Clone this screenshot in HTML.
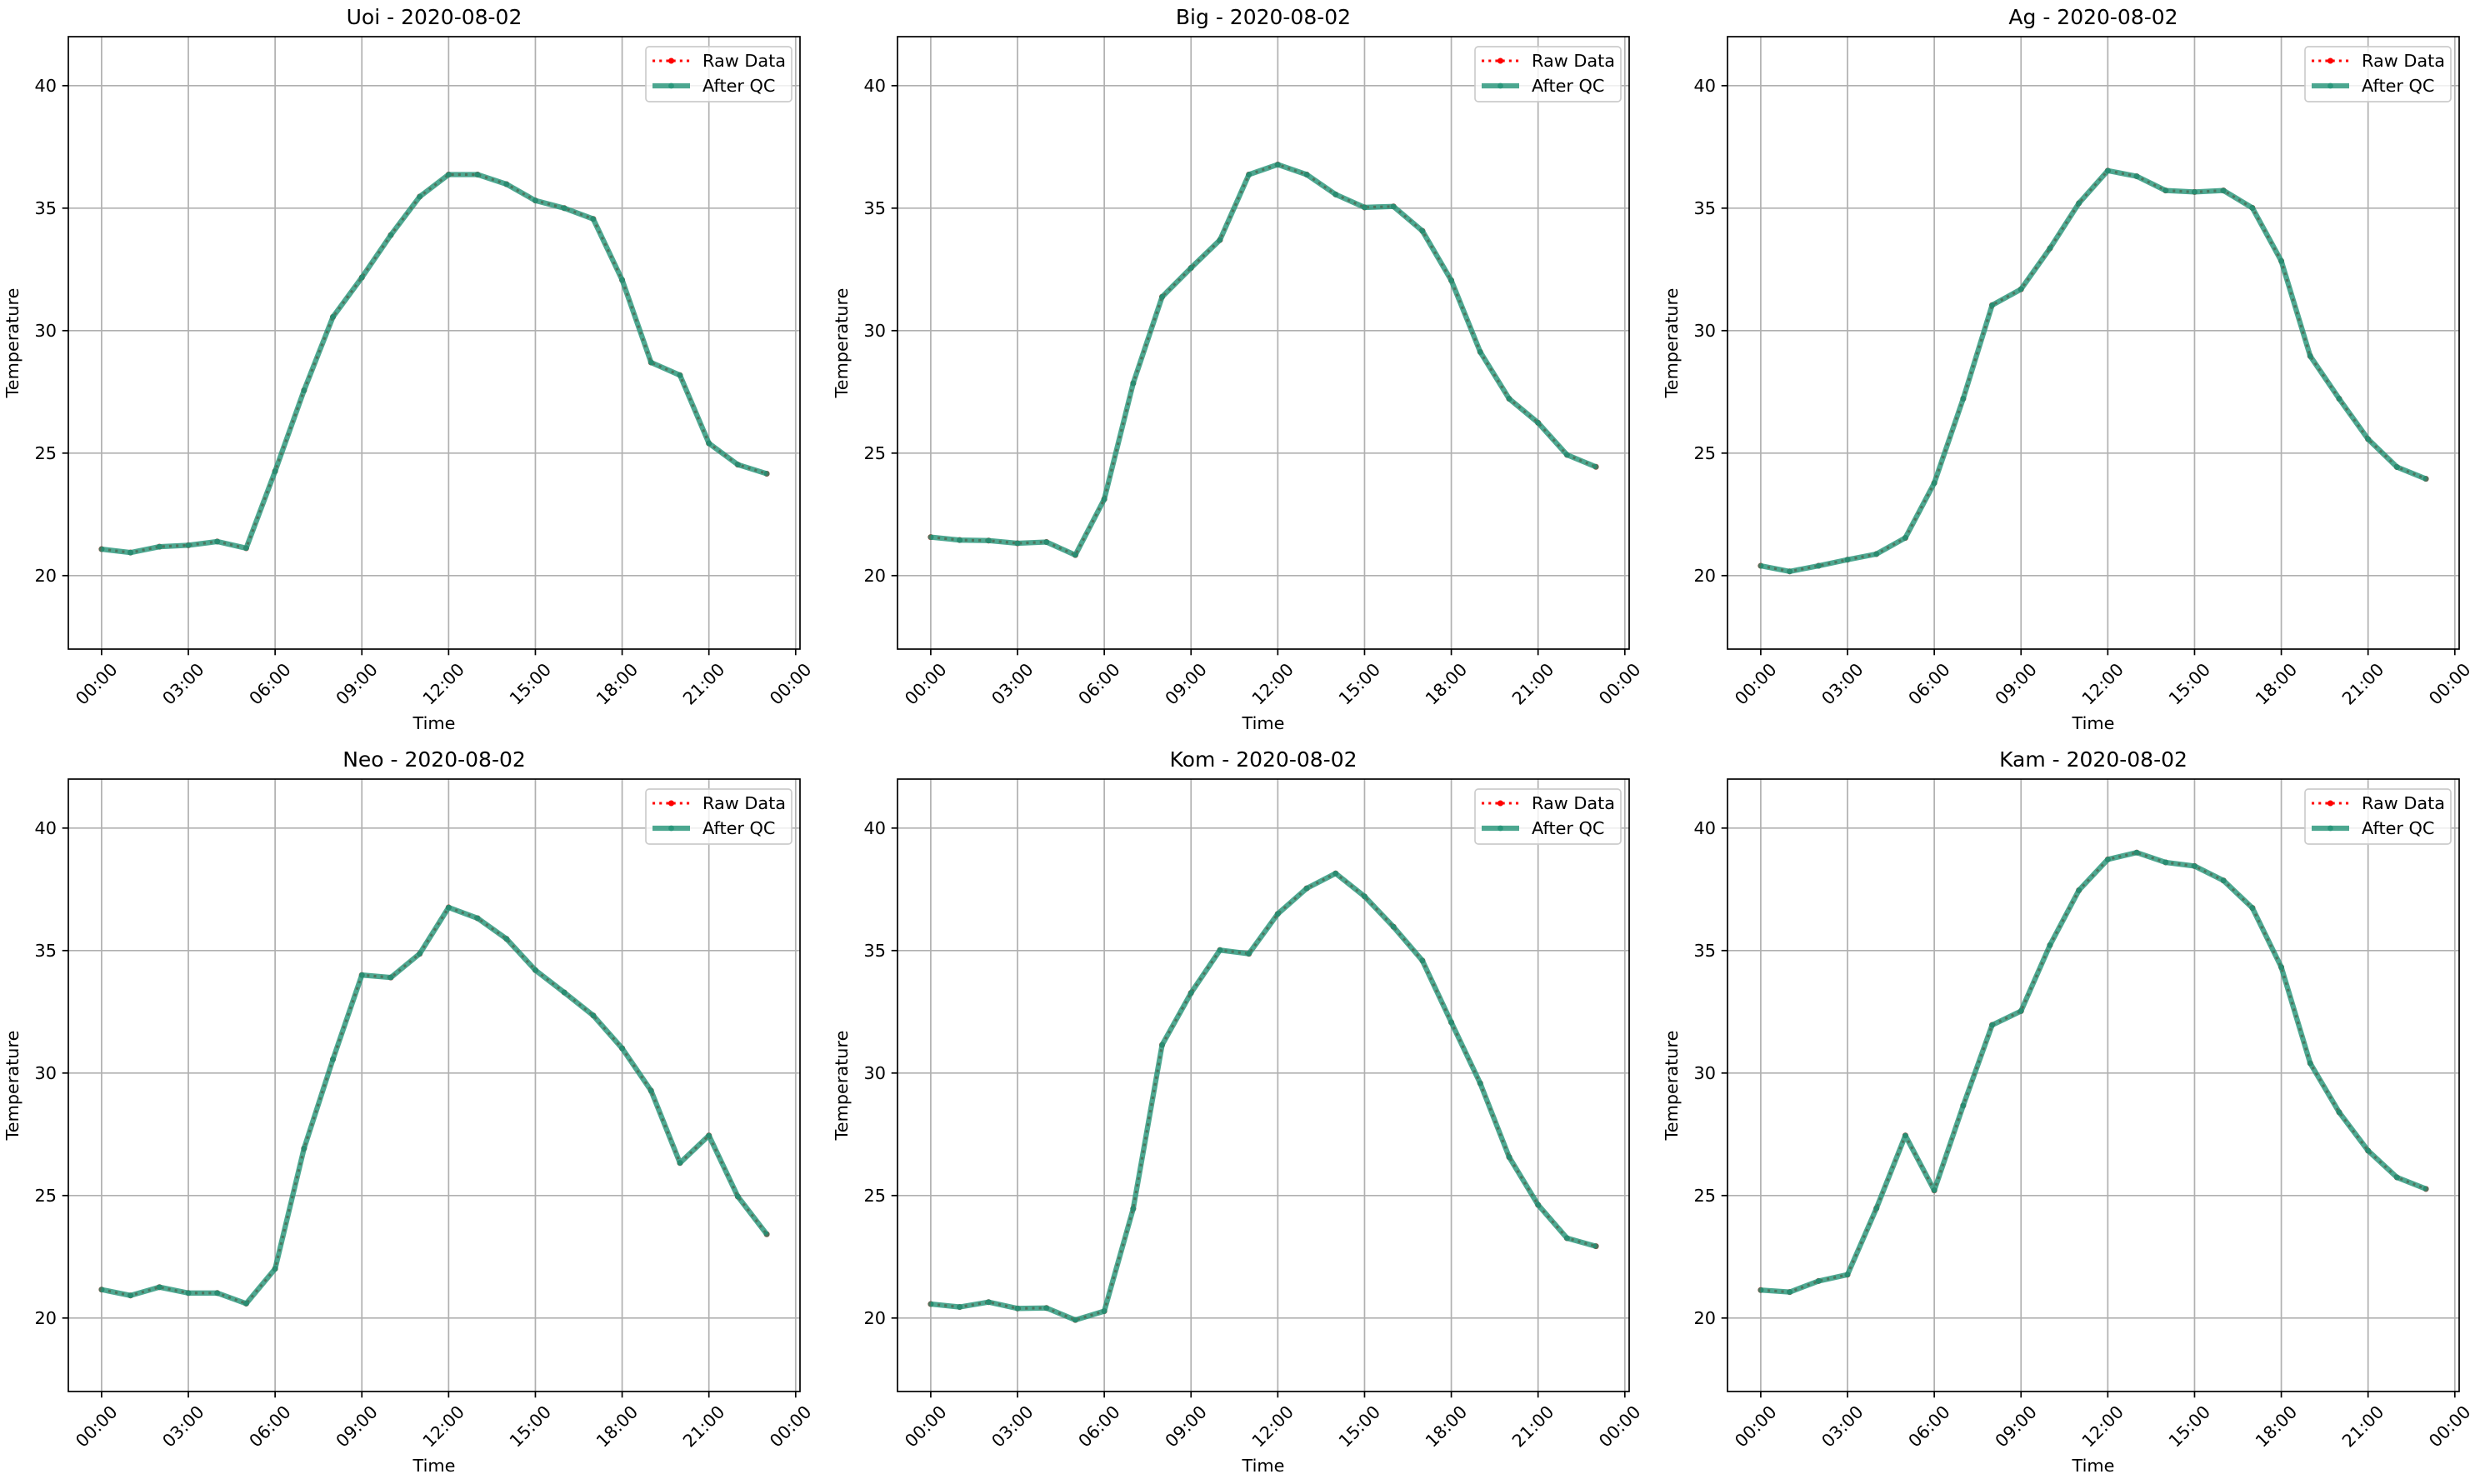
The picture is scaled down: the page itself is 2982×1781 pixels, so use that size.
<!DOCTYPE html>
<html><head><meta charset="utf-8"><style>
html,body{margin:0;padding:0;background:#fff;}
svg{display:block;font-family:"DejaVu Sans","Liberation Sans",sans-serif;}
</style></head><body>
<svg id="fig" width="2982" height="1781" viewBox="0 0 2982 1781" xmlns="http://www.w3.org/2000/svg"></svg>
<script>
const stations = ["Uoi","Big","Ag","Neo","Kom","Kam"];
const dateLabel = "2020-08-02";
const hours = [0,1,2,3,4,5,6,7,8,9,10,11,12,13,14,15,16,17,18,19,20,21,22,23];
const tempUoi = [21.08,20.94,21.18,21.24,21.39,21.12,24.26,27.56,30.56,32.17,33.90,35.47,36.37,36.37,35.98,35.31,35.00,34.56,32.07,28.70,28.18,25.40,24.53,24.16];
const tempBig = [21.57,21.45,21.43,21.32,21.37,20.84,23.12,27.85,31.38,32.56,33.70,36.37,36.78,36.37,35.56,35.03,35.07,34.07,32.05,29.13,27.22,26.24,24.93,24.44];
const tempAg  = [20.40,20.17,20.40,20.65,20.88,21.54,23.78,27.22,31.04,31.69,33.36,35.20,36.53,36.30,35.72,35.66,35.72,35.01,32.84,28.96,27.22,25.57,24.43,23.95];
const tempNeo = [21.16,20.92,21.26,21.02,21.02,20.59,22.01,26.92,30.56,34.00,33.90,34.87,36.76,36.32,35.48,34.20,33.29,32.35,31.01,29.28,26.33,27.45,24.96,23.42];
const tempKom = [20.57,20.45,20.65,20.39,20.41,19.92,20.28,24.46,31.15,33.27,35.02,34.87,36.50,37.54,38.15,37.21,35.97,34.59,32.07,29.58,26.57,24.62,23.26,22.93];
const tempKam = [21.14,21.06,21.51,21.77,24.48,27.45,25.21,28.67,31.96,32.53,35.22,37.46,38.72,39.00,38.60,38.45,37.86,36.74,34.32,30.40,28.40,26.83,25.74,25.27];
const yTicks = [20,25,30,35,40];
const xTickHours = [0,3,6,9,12,15,18,21,24];
const xTickLabels = ["00:00","03:00","06:00","09:00","12:00","15:00","18:00","21:00","00:00"];
const yDomain = [17,42];
const xDomain = [-1.15,24.15];

const series = [tempUoi,tempBig,tempAg,tempNeo,tempKom,tempKam];
const NS = "http://www.w3.org/2000/svg";
const svg = document.getElementById('fig');
function mk(tag, attrs, parent){const e=document.createElementNS(NS,tag);for(const k in attrs)e.setAttribute(k,attrs[k]);(parent||svg).appendChild(e);return e;}

const lefts=[82,1077,2073], tops=[44,935], W=878, H=735;
const GREEN="#209275";

series.forEach((vals,i)=>{
  const L=lefts[i%3], T=tops[Math.floor(i/3)];
  const sx=h=>L+(h-xDomain[0])/(xDomain[1]-xDomain[0])*W;
  const sy=v=>T+H-(v-yDomain[0])/(yDomain[1]-yDomain[0])*H;
  const g=mk('g',{});
  
  
  // grid
  xTickHours.forEach(h=>{const l=mk('line',{x1:sx(h),x2:sx(h),y1:T,y2:T+H,stroke:'#b0b0b0','stroke-width':1.7},g);
    });
  yTicks.forEach(v=>{const l=mk('line',{x1:L,x2:L+W,y1:sy(v),y2:sy(v),stroke:'#b0b0b0','stroke-width':1.7},g);
    });
  // ticks & labels
  yTicks.forEach(v=>{
    mk('line',{x1:L-7.3,x2:L,y1:sy(v),y2:sy(v),stroke:'#000','stroke-width':1.7},g);
    const t=mk('text',{x:L-14,y:sy(v),'font-size':20.8,'text-anchor':'end','dominant-baseline':'central',fill:'#000'},g);
    t.textContent=v;
    
  });
  xTickHours.forEach((h,k)=>{
    mk('line',{x1:sx(h),x2:sx(h),y1:T+H,y2:T+H+7.3,stroke:'#000','stroke-width':1.7},g);
    const cx=sx(h)-6, cy=T+H+42;
    const t=mk('text',{x:cx,y:cy,'font-size':20.8,'text-anchor':'middle','dominant-baseline':'central',fill:'#000',transform:`rotate(-45 ${cx} ${cy})`},g);
    t.textContent=xTickLabels[k];
    
  });
  // raw data (red dotted)
  const pts=hours.map((h,k)=>sx(h)+','+sy(vals[k])).join(' ');
  const raw=mk('polyline',{points:pts,fill:'none',stroke:'#ff0000','stroke-width':3.1,'stroke-dasharray':'3.1 5.1'},g);
  
  hours.forEach((h,k)=>{const c=mk('circle',{cx:sx(h),cy:sy(vals[k]),r:3.5,fill:'#ff0000'},g);
    });
  // after QC (green)
  const qc=mk('polyline',{points:pts,fill:'none',stroke:GREEN,'stroke-width':6.3,'stroke-opacity':0.8,'stroke-linejoin':'round'},g);
  
  hours.forEach((h,k)=>{const c=mk('circle',{cx:sx(h),cy:sy(vals[k]),r:3.4,fill:GREEN,'fill-opacity':0.8},g);
    });
  // spines
  const fr=mk('rect',{x:L,y:T,width:W,height:H,fill:'none',stroke:'#000','stroke-width':1.7},g);
  
  // title & labels
  const ti=mk('text',{x:L+W/2,y:T-15,'font-size':25,'text-anchor':'middle',fill:'#000'},g);
  ti.textContent=stations[i]+' - '+dateLabel;
  
  const xl=mk('text',{x:L+W/2,y:T+H+96,'font-size':20.8,'text-anchor':'middle',fill:'#000'},g);
  xl.textContent='Time';
  
  const yx=L-60, yy=T+H/2;
  const yl=mk('text',{x:yx,y:yy,'font-size':20.8,'text-anchor':'middle',fill:'#000',transform:`rotate(-90 ${yx} ${yy})`},g);
  yl.textContent='Temperature';
  
  // legend
  const lg=mk('g',{},g);
  
  const lx=L+W-10-175, ly=T+12;
  mk('rect',{x:lx,y:ly,width:175,height:66,rx:4,fill:'#fff','fill-opacity':0.8,stroke:'#cccccc','stroke-width':1.7},lg);
  mk('line',{x1:lx+8,x2:lx+53,y1:ly+17,y2:ly+17,stroke:'#ff0000','stroke-width':3.1,'stroke-dasharray':'3.1 5.1'},lg);
  mk('circle',{cx:lx+30.5,cy:ly+17,r:3.5,fill:'#ff0000'},lg);
  const t1=mk('text',{x:lx+68,y:ly+17,'font-size':20.8,'dominant-baseline':'central',fill:'#000'},lg);
  t1.textContent='Raw Data';
  
  mk('line',{x1:lx+8,x2:lx+53,y1:ly+47,y2:ly+47,stroke:GREEN,'stroke-width':6.3,'stroke-opacity':0.8},lg);
  mk('circle',{cx:lx+30.5,cy:ly+47,r:3.4,fill:GREEN,'fill-opacity':0.8},lg);
  const t2=mk('text',{x:lx+68,y:ly+47,'font-size':20.8,'dominant-baseline':'central',fill:'#000'},lg);
  t2.textContent='After QC';
  
});
</script>
</body></html>
